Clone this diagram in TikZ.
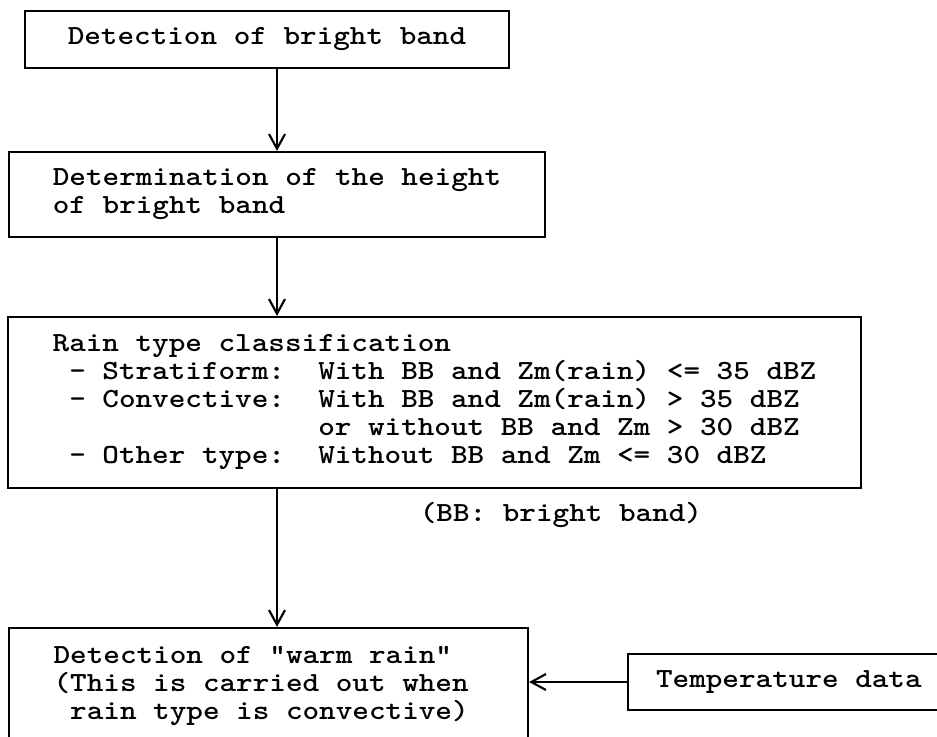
\documentclass[tikz,border=0pt]{standalone}
\usepackage{fontspec}
\usetikzlibrary{arrows.meta}
\newfontfamily\tfont{lmmono10-regular.otf}[FakeStretch=1.143, BoldFont=lmmonolt10-bold.otf, BoldFeatures={FakeStretch=1.143}]
\def\px{0.75pt}
\newcommand\blank[1]{\hphantom{#1}}
\tikzset{
  txt/.style={font=\tfont\bfseries\fontsize{20.75pt}{21pt}\selectfont, inner sep=0pt},
  box/.style={txt, draw, line width=1.6pt, rectangle},
  arr/.style={line width=2pt, -{Straight Barb[length=11pt,width=12pt,line width=1.6pt]}}
}
\begin{document}
\begin{tikzpicture}[x=0.75pt,y=-0.75pt]
\useasboundingbox (0,0) rectangle (937,737);
\node[box, minimum width=484*\px, minimum height=57*\px] (det) at (267,39.5) {Detection of bright band};
\node[box, align=left, minimum width=536*\px, minimum height=85*\px] (hgt) at (277,194.5)
  {Determination of the height\\of bright band};
\node[box, align=left, minimum width=853*\px, minimum height=171*\px] (cls) at (434.5,402.5)
  {Rain type classification\\
   \blank{x}-~Stratiform:~~With BB and Zm(rain) <= 35 dBZ\\
   \blank{x}-~Convective:~~With BB and Zm(rain) > 35 dBZ\\
   \blank{x-~Convective:~~}or without BB and Zm > 30 dBZ\\
   \blank{x}-~Other type:~~Without BB and Zm <= 30 dBZ};
\node[txt] (note) at (561,515) {(BB: bright band)};
\node[box, align=left, minimum width=519*\px, minimum height=115*\px] (warm) at (268.5,685.5)
  {Detection of "warm rain"\\(This is carried out when\rule{11pt}{0pt}\\\blank{x}rain type is convective)};
\node[box, anchor=west, inner xsep=21pt, minimum height=56*\px] (temp) at (627,682) {Temperature data};
\draw[arr] (det.south -| hgt.north) -- (hgt.north);
\draw[arr] (hgt.south) -- (hgt.south |- cls.north);
\draw[arr] (hgt.south |- cls.south) -- (hgt.south |- warm.north);
\draw[arr] (temp.west) -- (temp.west -| warm.east);
\end{tikzpicture}
\end{document}
